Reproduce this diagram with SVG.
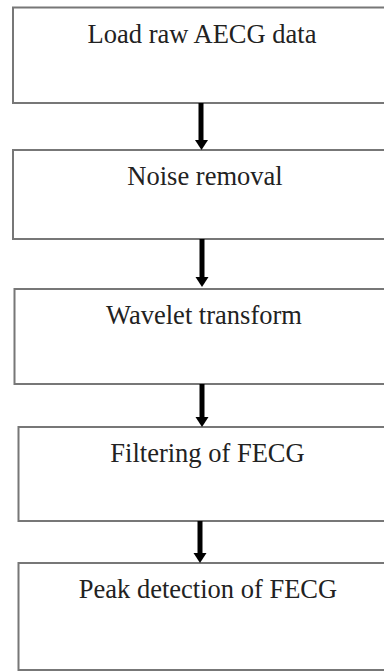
<svg xmlns="http://www.w3.org/2000/svg" width="384" height="671" viewBox="0 0 384 671">
<defs>
<style>
.box{fill:#fff;stroke:#777;stroke-width:2}
.lbl{font-family:"Liberation Serif","Times New Roman",serif;font-size:26.5px;fill:#222;text-anchor:middle}
.shaft{stroke:#000;stroke-width:5}
.head{fill:#000}
</style>
</defs>
<rect width="384" height="671" fill="#fff"/>
<g id="n1"><rect class="box" x="13" y="7.5" width="390" height="95.5"/><text class="lbl" x="202" y="43">Load raw AECG data</text></g>
<g id="n2"><rect class="box" x="13" y="150" width="390" height="89"/><text class="lbl" x="205" y="185">Noise removal</text></g>
<g id="n3"><rect class="box" x="14.5" y="289" width="390" height="95"/><text class="lbl" x="204" y="324">Wavelet transform</text></g>
<g id="n4"><rect class="box" x="18.5" y="427" width="390" height="94"/><text class="lbl" x="207.5" y="462">Filtering of FECG</text></g>
<g id="n5"><rect class="box" x="18.5" y="563" width="390" height="107"/><text class="lbl" x="208" y="598">Peak detection of FECG</text></g>
<g id="connectors">
<line class="shaft" x1="201" y1="103" x2="201" y2="141"/><polygon class="head" points="195,140 208,140 201.5,150"/>
<line class="shaft" x1="202" y1="239" x2="202" y2="278"/><polygon class="head" points="195.5,277 208.5,277 202,287"/>
<line class="shaft" x1="202" y1="384" x2="202" y2="418"/><polygon class="head" points="195.5,417 208.5,417 202,427"/>
<line class="shaft" x1="200" y1="521" x2="200" y2="554"/><polygon class="head" points="193.5,553 206.5,553 200,563"/>
</g>
</svg>
